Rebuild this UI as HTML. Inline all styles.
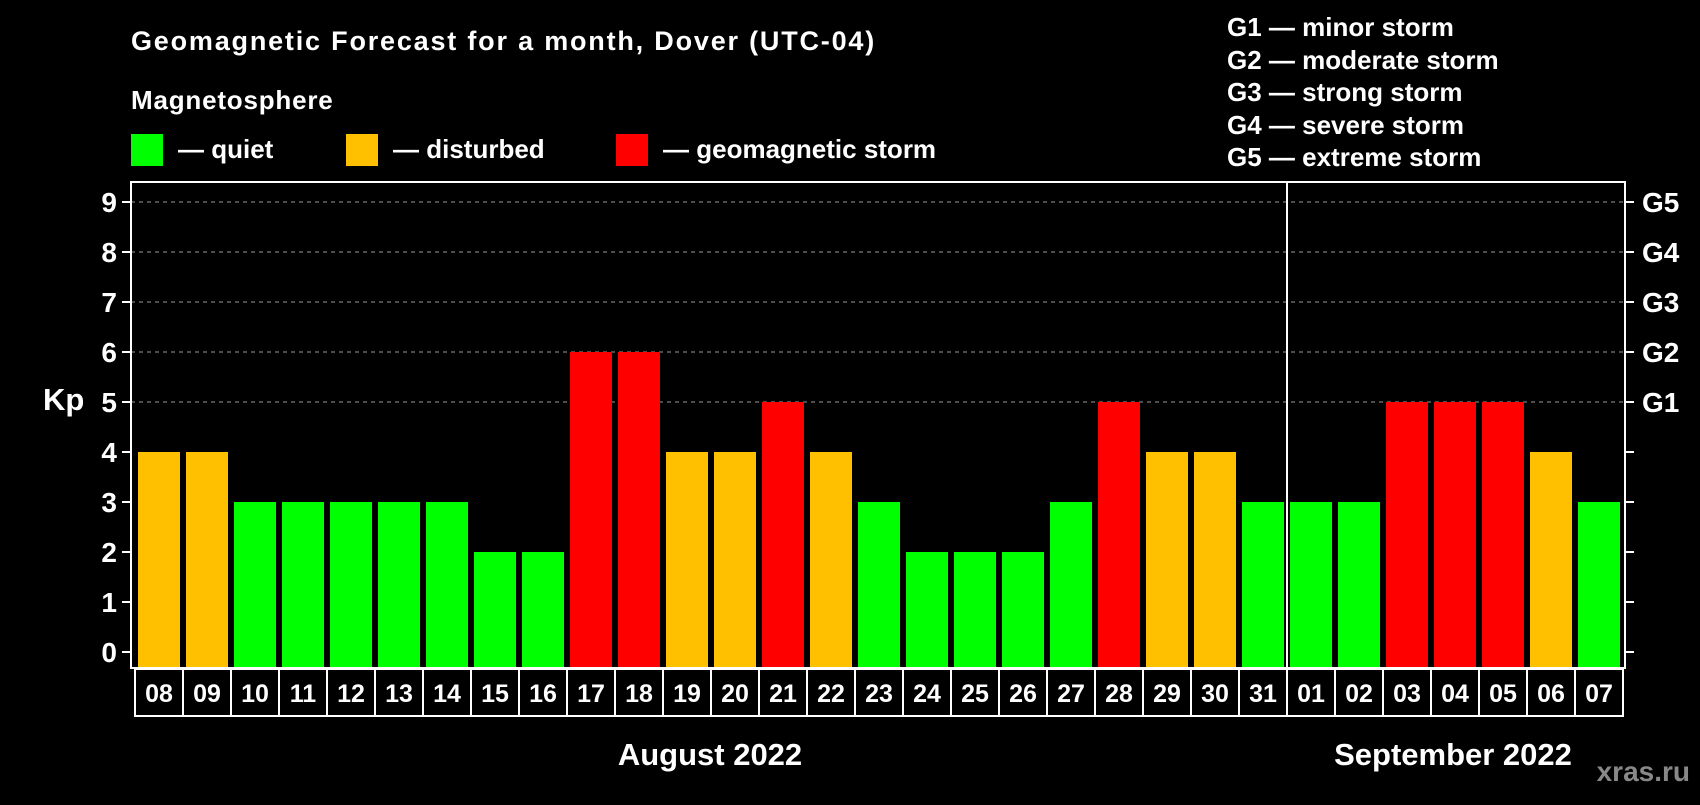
<!DOCTYPE html>
<html><head><meta charset="utf-8"><style>
body{margin:0;background:#000;}
svg text{font-family:"Liberation Sans",Arial,sans-serif;font-weight:bold;fill:#fff;}
</style></head><body>
<svg id="chart" width="1700" height="800" viewBox="0 0 1700 800">
<rect width="1700" height="800" fill="#000"/>
<text x="131" y="50" font-size="27" letter-spacing="1.8">Geomagnetic Forecast for a month, Dover (UTC-04)</text>
<text x="131" y="109" font-size="26" letter-spacing="0.8">Magnetosphere</text>
<rect x="131" y="134" width="32" height="32" fill="#00ff00"/>
<text x="178" y="158" font-size="26">— quiet</text>
<rect x="346" y="134" width="32" height="32" fill="#ffc000"/>
<text x="393" y="158" font-size="26">— disturbed</text>
<rect x="616" y="134" width="32" height="32" fill="#ff0000"/>
<text x="663" y="158" font-size="26">— geomagnetic storm</text>
<g font-size="26">
<text x="1227" y="36">G1 — minor storm</text>
<text x="1227" y="69">G2 — moderate storm</text>
<text x="1227" y="101">G3 — strong storm</text>
<text x="1227" y="134">G4 — severe storm</text>
<text x="1227" y="166">G5 — extreme storm</text>
</g>
<text x="43" y="410" font-size="31">Kp</text>
<g id="plot"></g>
<text x="710" y="765" font-size="31" text-anchor="middle">August 2022</text>
<text x="1453" y="765" font-size="31" text-anchor="middle">September 2022</text>
<text x="1690" y="781" font-size="28" text-anchor="end" style="fill:#888">xras.ru</text>
</svg>
<script>
const days=["08","09","10","11","12","13","14","15","16","17","18","19","20","21","22","23","24","25","26","27","28","29","30","31","01","02","03","04","05","06","07"];
const kpValues=[4,4,3,3,3,3,3,2,2,6,6,4,4,5,4,3,2,2,2,3,5,4,4,3,3,3,5,5,5,4,3];
const yTicks=[0,1,2,3,4,5,6,7,8,9];
const gLabels=["G1","G2","G3","G4","G5"];
const gLevels=[5,6,7,8,9];
const NS="http://www.w3.org/2000/svg";
const plot=document.getElementById('plot');
const pl=131,pr=1625,pt=182,pb=668,x0=138,step=48,bw=42;
function yS(v){return 652-50*v;}
function xS(i){return x0+step*i;}
function mk(t,a){const e=document.createElementNS(NS,t);for(const k in a)e.setAttribute(k,a[k]);plot.appendChild(e);return e;}
function col(v){return v>=5?"#ff0000":(v>=4?"#ffc000":"#00ff00");}
gLevels.forEach(v=>{const l=mk('line',{x1:pl,x2:pr,y1:yS(v),y2:yS(v),stroke:'#999','stroke-dasharray':'4,4','stroke-width':1});

});
yTicks.forEach(v=>{const t=mk('line',{x1:pl-9,x2:pl,y1:yS(v),y2:yS(v),stroke:'#fff','stroke-width':2});


const r=mk('line',{x1:pr,x2:pr+9,y1:yS(v),y2:yS(v),stroke:'#fff','stroke-width':2});


const tx=mk('text',{x:117,y:yS(v)+10,'font-size':28,'text-anchor':'end'});tx.textContent=v;

});
gLabels.forEach((g,i)=>{const tx=mk('text',{x:1642,y:yS(gLevels[i])+10,'font-size':28});tx.textContent=g;

});
kpValues.forEach((v,i)=>{const b=mk('rect',{x:xS(i),y:yS(v),width:bw,height:pb-yS(v),fill:col(v)});


const bx=mk('rect',{x:xS(i)-3,y:669,width:step,height:47,fill:'none',stroke:'#fff','stroke-width':2});


const tx=mk('text',{x:xS(i)+bw/2,y:702,'font-size':25,'text-anchor':'middle'});tx.textContent=days[i];

});
const fr=mk('rect',{x:pl,y:pt,width:pr-pl,height:pb-pt,fill:'none',stroke:'#fff','stroke-width':2});


const si=days.indexOf("01");
const sep=mk('line',{x1:xS(si)-3,x2:xS(si)-3,y1:pt,y2:716,stroke:'#fff','stroke-width':2});


</script>
</body></html>
